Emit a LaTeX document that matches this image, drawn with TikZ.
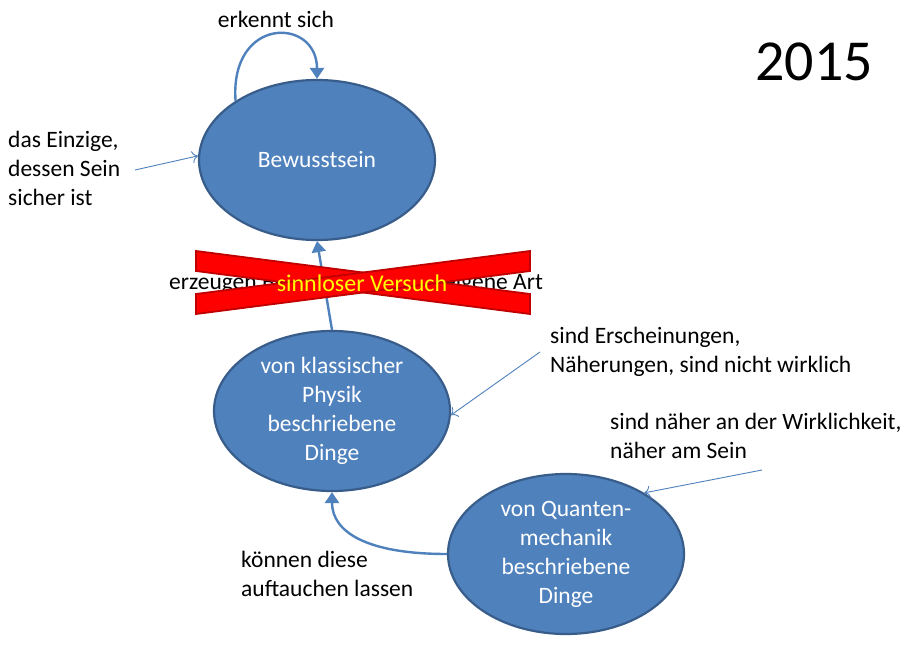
\documentclass[tikz,border=0pt]{standalone}
\usepackage{fontspec}
\setmainfont{Carlito}
\usetikzlibrary{shapes.geometric,arrows.meta}
\definecolor{ellfill}{HTML}{4F81BD}
\definecolor{elldraw}{HTML}{385D8A}
\definecolor{crossred}{HTML}{FF0000}
\definecolor{crossdark}{HTML}{C00000}
\definecolor{txtyellow}{HTML}{FFFF00}
\tikzset{
  ell/.style={ellipse, fill=ellfill, draw=elldraw, line width=2.2pt, minimum width=236pt, minimum height=160pt, inner sep=0pt, text=white, align=center, font=\fontsize{23.5}{29}\selectfont},
  lbl/.style={inner sep=0pt, align=left, font=\fontsize{23.5}{29}\selectfont},
  mainarrow/.style={draw=ellfill, line width=2.4pt, -{Triangle[length=11pt,width=14pt]}},
  thinarrow/.style={draw=ellfill, line width=0.9pt, -{To[length=6pt,width=12pt]}},
  crossbar/.style={fill=crossred, draw=crossdark, line width=1.8pt, line join=miter}
}
\begin{document}
\begin{tikzpicture}[x=1pt,y=-1pt]
\useasboundingbox (0,0) rectangle (921,658);
\fill[white] (0,0) rectangle (921,658);

% ellipses
\node[ell] (b) at (317,160) {Bewusstsein};
\node[ell] (k) at (332,411) {von klassischer\\Physik\\beschriebene\\Dinge};
\node[ell] (q) at (566,554) {von Quanten-\\mechanik\\beschriebene\\Dinge};

% labels
\node[lbl, anchor=center] (erk) at (276,19) {erkennt sich};
\node[inner sep=0pt, font=\fontsize{58}{60}\selectfont] (year) at (814,62) {2015};
\node[lbl, anchor=west] (einz) at (8,168) {das Einzige,\\dessen Sein\\sicher ist};
\node[lbl, anchor=west] (ersch) at (550,351.5) {sind Erscheinungen,\\Näherungen, sind nicht wirklich};
\node[lbl, anchor=west] (naeher) at (610,435.5) {sind näher an der Wirklichkeit,\\näher am Sein};
\node[lbl, anchor=west] (koenn) at (241,573.5) {können diese\\auftauchen lassen};

% connectors
\draw[mainarrow] (b.144) .. controls +(-6,-85) and +(0,-62) .. (b.north);
\draw[mainarrow] (k.north) -- (b.south);
\draw[mainarrow] (q.west) .. controls +(-80,0) and +(0,40) .. (k.south);

\coordinate (e1) at (135,170);
\coordinate (e2) at (540,352);
\coordinate (e3) at (762,470);
\draw[thinarrow] (e1) -- (b.178);
\draw[thinarrow] (e2) -- (k.358);
\draw[thinarrow] (e3) -- (q.38);

% crossed-out label
\node[lbl, anchor=center] (erz) at (356,283) {erzeugen Bewusstsein auf je eigene Art};
\draw[crossbar] (196,251) -- (530,294) -- (530,314) -- (196,271) -- cycle;
\draw[crossbar] (196,294) -- (530,251) -- (530,271) -- (196,314) -- cycle;
\node[lbl, anchor=center, text=txtyellow, font=\fontsize{24}{29}\selectfont] (sinn) at (362,283) {sinnloser Versuch};
\end{tikzpicture}
\end{document}
